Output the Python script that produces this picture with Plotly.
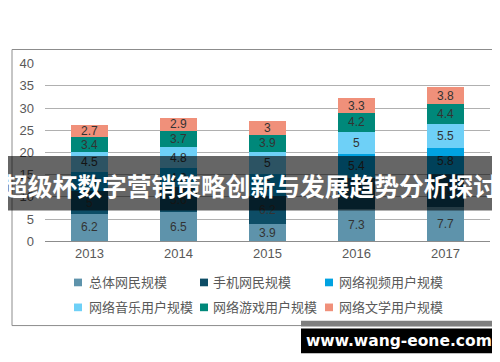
import plotly.graph_objects as go

years = ["2013", "2014", "2015", "2016", "2017"]
series_names = ["总体网民规模", "手机网民规模", "网络视频用户规模",
                "网络音乐用户规模", "网络游戏用户规模", "网络文学用户规模"]
total_users = [6.2, 6.5, 3.9, 7.3, 7.7]
mobile_users = [5.0, 5.6, 6.2, 7.0, 7.5]
video_users = [4.3, 4.3, 5.0, 5.4, 5.8]
music_users = [4.5, 4.8, 5.0, 5.0, 5.5]
game_users = [3.4, 3.7, 3.9, 4.2, 4.4]
literature_users = [2.7, 2.9, 3.0, 3.3, 3.8]
y_ticks = [0, 5, 10, 15, 20, 25, 30, 35, 40]

series_values = [total_users, mobile_users, video_users, music_users, game_users, literature_users]
colors = ["#5e93ab", "#0d4d66", "#00a2e1", "#6ed0f7", "#00887a", "#f0907a"]

W, H = 500, 362
def px(x):
    return x / W
def py(y):
    return 1 - y / H

fig = go.Figure()
for name, vals, col in zip(series_names, series_values, colors):
    fig.add_trace(go.Bar(
        x=years, y=vals, name=name, marker=dict(color=col, line=dict(width=0)),
        width=0.41,
        text=[f"{v:g}" for v in vals], textposition="inside",
        insidetextanchor="middle", constraintext="none", textangle=0,
        textfont=dict(size=12, color="#333333", family="Liberation Sans, Arial, sans-serif"),
        insidetextfont=dict(size=12, color="#333333", family="Liberation Sans, Arial, sans-serif"),
        showlegend=False, hoverinfo="skip",
    ))

shapes = []
annotations = []

# chart border
shapes.append(dict(type="rect", xref="paper", yref="paper",
                   x0=px(4), x1=px(495), y0=py(36), y1=py(324),
                   line=dict(color="#8c8c8c", width=1), layer="below"))

# legend (manual, 3 columns x 2 rows)
leg_cols = [(70, 79), (196, 203), (321, 329)]
leg_rows = [279, 305]
for i, (name, col) in enumerate(zip(series_names, colors)):
    r, c = divmod(i, 3)
    mx, tx = leg_cols[c]
    yy = leg_rows[r]
    shapes.append(dict(type="rect", xref="paper", yref="paper",
                       x0=px(mx - 4), x1=px(mx + 4), y0=py(yy - 4), y1=py(yy + 4),
                       fillcolor=col, line=dict(width=0)))
    annotations.append(dict(xref="paper", yref="paper", x=px(tx), y=py(yy - 1),
                            text=name, showarrow=False, xanchor="left", yanchor="middle",
                            font=dict(size=13, color="#595959", family="Noto Sans CJK SC")))

# title banner
shapes.append(dict(type="rect", xref="paper", yref="paper",
                   x0=0, x1=px(497), y0=py(204), y1=py(147),
                   fillcolor="rgba(0,0,0,0.6)", line=dict(width=0), layer="above"))
annotations.append(dict(xref="paper", yref="paper", x=0, y=py(180),
                        text="超级杯数字营销策略创新与发展趋势分析探讨", showarrow=False,
                        xanchor="left", yanchor="middle", borderpad=0, xshift=-6, yshift=3,
                        font=dict(size=24.75, color="white", family="Noto Sans CJK SC", weight=700)))

# watermark
shapes.append(dict(type="rect", xref="paper", yref="paper",
                   x0=px(293), x1=px(491), y0=py(325), y1=py(319),
                   fillcolor="#7f7f7f", line=dict(width=0), layer="above"))
shapes.append(dict(type="rect", xref="paper", yref="paper",
                   x0=px(293), x1=px(492), y0=py(353), y1=py(327),
                   fillcolor="black", line=dict(width=0), layer="above"))
annotations.append(dict(xref="paper", yref="paper", x=px(391), y=py(340),
                        text="www.wang-eone.com", showarrow=False,
                        xanchor="center", yanchor="middle",
                        font=dict(size=15.5, color="white", family="DejaVu Sans", weight=700)))

fig.update_layout(
    barmode="stack",
    width=W, height=H,
    margin=dict(l=0, r=0, t=0, b=0),
    paper_bgcolor="white", plot_bgcolor="white",
    showlegend=False,
    shapes=shapes, annotations=annotations,
    xaxis=dict(domain=[px(37), px(482)], showgrid=False, showline=True,
               linecolor="#8c8c8c", linewidth=1, ticks="",
               tickfont=dict(size=13, color="#595959", family="Liberation Sans, Arial, sans-serif"),
               ticklabelstandoff=0),
    yaxis=dict(domain=[py(236), py(50.7)], range=[0, 40], tickvals=y_ticks,
               showgrid=True, gridcolor="#b0b0b0", gridwidth=1, zeroline=False,
               showline=False, ticks="",
               tickfont=dict(size=13, color="#595959", family="Liberation Sans, Arial, sans-serif"),
               ticklabelstandoff=10),
)

fig.write_html("out.html")
